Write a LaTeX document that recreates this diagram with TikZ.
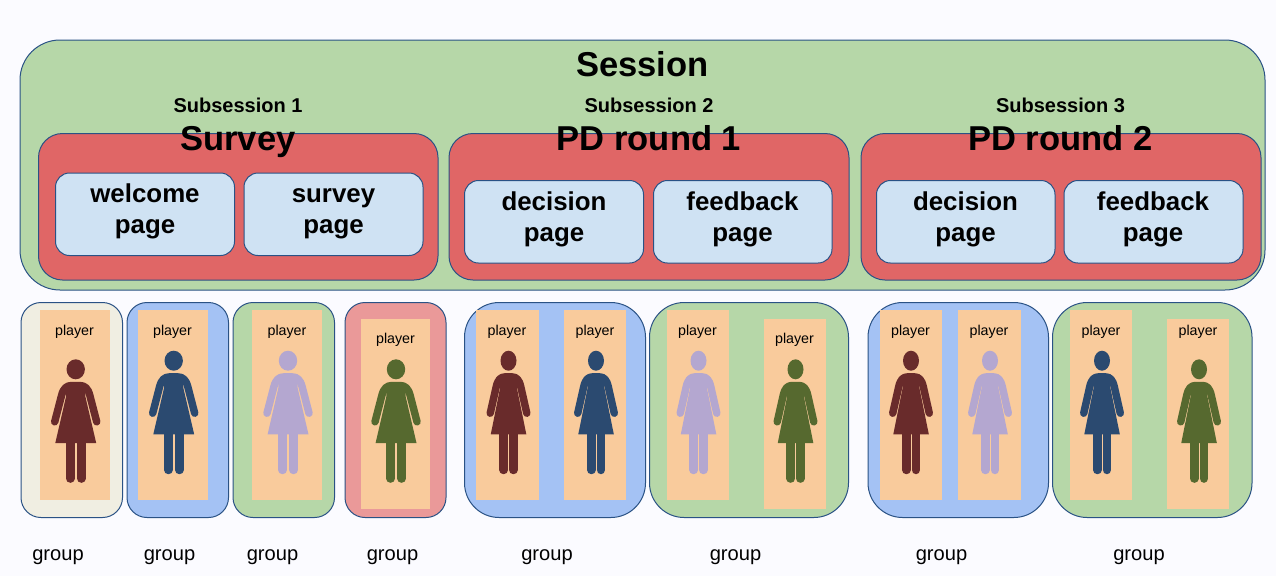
\documentclass[tikz,border=0pt]{standalone}
\usepackage{fontspec}
\setmainfont{Liberation Sans}
\definecolor{bgc}{HTML}{FBFBFF}
\definecolor{edge}{HTML}{2A5285}
\definecolor{sess}{HTML}{B6D7A8}
\definecolor{subs}{HTML}{E06666}
\definecolor{pagec}{HTML}{CFE2F3}
\definecolor{blueg}{HTML}{A4C2F4}
\definecolor{creamg}{HTML}{F0EEE2}
\definecolor{pinkg}{HTML}{EA9999}
\definecolor{orangec}{HTML}{F9CB9C}
\definecolor{pred}{HTML}{692B2B}
\definecolor{pnavy}{HTML}{2B4A70}
\definecolor{plav}{HTML}{B4A7D0}
\definecolor{polive}{HTML}{56692F}
\tikzset{
  x=0.75pt,y=-0.75pt,
  rbox/.style={draw=edge,line width=0.75pt},
  sessbox/.style={rbox,fill=sess,rounded corners=30pt},
  subsbox/.style={rbox,fill=subs,rounded corners=18pt},
  pagebox/.style={rbox,fill=pagec,rounded corners=10.5pt},
  smallg/.style={rbox,rounded corners=15pt},
  wideg/.style={rbox,rounded corners=26pt},
  slip/.style={fill=orangec},
  title/.style={font=\bfseries\fontsize{25.9}{30}\selectfont,inner sep=0pt,anchor=base},
  subtitle/.style={font=\bfseries\fontsize{15}{18}\selectfont,inner sep=0pt,anchor=base},
  pagetext/.style={font=\bfseries\fontsize{19.4}{23.3}\selectfont,inner sep=0pt,align=center,anchor=center},
  playertext/.style={font=\fontsize{10.7}{13}\selectfont,inner sep=0pt,anchor=base},
  grouptext/.style={font=\fontsize{15.1}{18}\selectfont,inner sep=0pt,anchor=base},
  pics/woman/.style={code={
    \fill[#1] (0,0) ellipse[x radius=9.2,y radius=10];
    \fill[#1] (-9.6,27) -- (-20.4,73.7) -- (20.5,73.7) -- (9.6,27) -- (9.6,14) -- (-9.6,14) -- cycle;
    \draw[#1,line width=5.6pt,line cap=round,line join=round]
      (-21,52.5) -- (-14.1,26) .. controls (-12.3,19) and (-9,16.2) .. (-4,16.2)
      -- (4,16.2) .. controls (9,16.2) and (12.3,19) .. (14.1,26) -- (21,52.5);
    \draw[#1,line width=6.5pt,line cap=round] (-5.4,70) -- (-5.4,109.2);
    \draw[#1,line width=6.5pt,line cap=round] (5.6,70) -- (5.6,109.2);
  }},
  narrow/.style={xscale=0.87},
}
\begin{document}
\begin{tikzpicture}
\useasboundingbox (0,0) rectangle (1276,576);
\fill[bgc] (0,0) rectangle (1276,576);
% session
\draw[sessbox] (20,40) rectangle (1265,290);
\draw[subsbox] (38.5,133.5) rectangle (438,280);
\draw[subsbox] (449,133.5) rectangle (849,280);
\draw[subsbox] (861,133.5) rectangle (1261,280);
\draw[pagebox] (55.5,173) rectangle (234.5,255.5);
\draw[pagebox] (244,173) rectangle (423,255.5);
\draw[pagebox] (464.5,180.5) rectangle (643.5,263);
\draw[pagebox] (653.5,180.5) rectangle (832,263);
\draw[pagebox] (876.5,180.5) rectangle (1055,263);
\draw[pagebox] (1064,180.5) rectangle (1243,263);
\node[title] (session) at (642.5,76.5) {Session};
\node[subtitle] (sub1) at (238,112) {Subsession 1};
\node[subtitle] (sub2) at (649,112) {Subsession 2};
\node[subtitle] (sub3) at (1060.5,112) {Subsession 3};
\node[title] (survey) at (238,150.5) {Survey};
\node[title] (pd1) at (649,150.5) {PD round 1};
\node[title] (pd2) at (1060.5,150.5) {PD round 2};
\node[pagetext] (p1) at (145,212) {\strut welcome\\\strut page};
\node[pagetext] (p2) at (333.5,212) {\strut survey\\\strut page};
\node[pagetext] (p3) at (554,219.5) {\strut decision\\\strut page};
\node[pagetext] (p4) at (742.5,219.5) {\strut feedback\\\strut page};
\node[pagetext] (p5) at (965.5,219.5) {\strut decision\\\strut page};
\node[pagetext] (p6) at (1153,219.5) {\strut feedback\\\strut page};
% groups
\draw[smallg,fill=creamg] (21,302.5) rectangle (122.5,517.5);
\draw[smallg,fill=blueg] (127,302.5) rectangle (228.5,517.5);
\draw[smallg,fill=sess] (233,302.5) rectangle (334.5,517.5);
\draw[smallg,fill=pinkg] (345,302.5) rectangle (446,517.5);
\draw[wideg,fill=blueg] (464.5,302.5) rectangle (645.5,517.5);
\draw[wideg,fill=sess] (649.5,302.5) rectangle (848.5,517.5);
\draw[wideg,fill=blueg] (868,302.5) rectangle (1048.5,517.5);
\draw[wideg,fill=sess] (1052.5,302.5) rectangle (1252,517.5);
% player slips
\foreach \l/\r/\t/\b in {40/109.5/310/500,137.5/207.5/310/500,252/322/310/500,360.5/430/319/508.5,
  476/538.5/310/500,564/626/310/500,667/729/310/500,764/826/319/508.5,
  879.5/941.5/310/500,958/1020.5/310/500,1070/1132/310/500,1167/1229/319/508.5}
  \fill[slip] (\l,\t) rectangle (\r,\b);
\node[playertext] (t1) at (74.5,335) {player};
\node[playertext] (t2) at (172.5,335) {player};
\node[playertext] (t3) at (287,335) {player};
\node[playertext] (t4) at (395.5,343) {player};
\node[playertext] (t5) at (507,335) {player};
\node[playertext] (t6) at (595,335) {player};
\node[playertext] (t7) at (697.5,335) {player};
\node[playertext] (t8) at (794.5,343) {player};
\node[playertext] (t9) at (910.5,335) {player};
\node[playertext] (t10) at (989,335) {player};
\node[playertext] (t11) at (1101,335) {player};
\node[playertext] (t12) at (1198,335) {player};
\pic at (75.7,369.3) {woman=pred};
\pic at (173.7,360.7) {woman=pnavy};
\pic at (288,360.7) {woman=plav};
\pic at (396,369.3) {woman=polive};
\pic[narrow] at (508.5,360.7) {woman=pred};
\pic[narrow] at (596,360.7) {woman=pnavy};
\pic[narrow] at (698.5,360.7) {woman=plav};
\pic[narrow] at (795.5,369.3) {woman=polive};
\pic[narrow] at (911,360.7) {woman=pred};
\pic[narrow] at (990,360.7) {woman=plav};
\pic[narrow] at (1102,360.7) {woman=pnavy};
\pic[narrow] at (1199,369.3) {woman=polive};
\node[grouptext] (g1) at (58,560) {group};
\node[grouptext] (g2) at (169.5,560) {group};
\node[grouptext] (g3) at (272.5,560) {group};
\node[grouptext] (g4) at (392.5,560) {group};
\node[grouptext] (g5) at (547,560) {group};
\node[grouptext] (g6) at (735.5,560) {group};
\node[grouptext] (g7) at (941.5,560) {group};
\node[grouptext] (g8) at (1139,560) {group};
\end{tikzpicture}
\end{document}
